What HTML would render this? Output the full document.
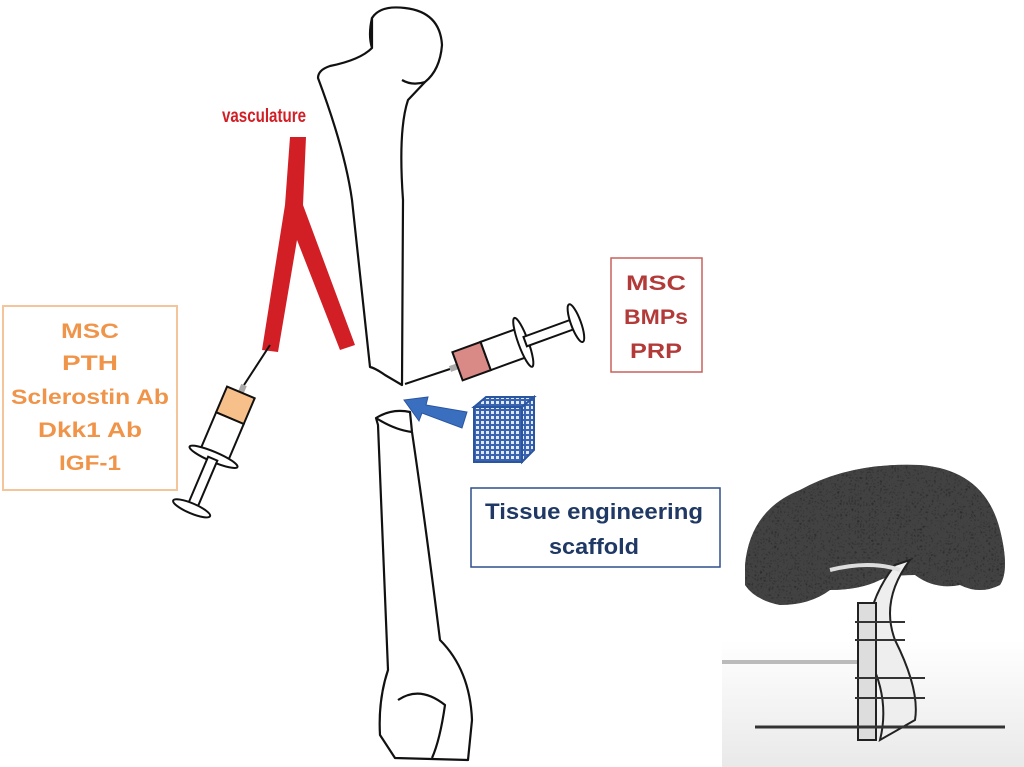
<!DOCTYPE html>
<html><head><style>
html,body{margin:0;padding:0;background:#fff;width:1024px;height:767px;overflow:hidden}
.t{font-family:"Liberation Sans",sans-serif;font-weight:bold}
</style></head><body>
<svg width="1024" height="767" viewBox="0 0 1024 767" xmlns="http://www.w3.org/2000/svg">
<defs>
<pattern id="g" width="5" height="5" patternUnits="userSpaceOnUse"><rect width="5" height="5" fill="#3a64b0"/><rect x="1" y="1" width="3" height="3" fill="#dfe8f6"/></pattern>
<filter id="n"><feTurbulence baseFrequency="0.35" numOctaves="2" result="t"/><feColorMatrix in="t" type="matrix" values="0 0 0 0 0.1 0 0 0 0 0.1 0 0 0 0 0.1 0 0 0 -2.2 1.6"/><feComposite in2="SourceGraphic" operator="in"/></filter>
<linearGradient id="bg" x1="0" y1="0" x2="0" y2="1"><stop offset="0" stop-color="#fff"/><stop offset="1" stop-color="#e9e9e9"/></linearGradient>
</defs>
<!-- femur upper -->
<g fill="none" stroke="#111" stroke-width="2.2" stroke-linejoin="round">
<path d="M372,18 Q380,5 405,8 Q440,12 442,45 Q440,70 425,82 L408,100 Q398,130 403,200 L402,385 L385,375 Q375,368 370,367 L352,200 Q345,150 318,78 Q318,70 330,66 Q360,60 372,48 Z"/>
<path d="M372,48 Q368,35 372,18"/>
<path d="M425,82 Q412,86 402,80"/>
<!-- lower bone -->
<path d="M376,418 Q392,408 410,412 L412,432 Q425,520 440,640 Q470,670 472,720 L468,760 L395,758 L380,735 Q378,700 388,670 L378,425 Z"/>
<path d="M376,418 Q395,430 412,432"/>
<path d="M398,700 Q420,685 445,705 Q440,740 432,758"/>
</g>
<!-- vasculature -->
<path d="M290,137 L306,137 L303,205 L355,345 L340,350 L297,240 L278,352 L262,350 L285,205 Z" fill="#d21f26"/>
<text x="222" y="122" class="t" font-size="19" fill="#d21f26" textLength="84" lengthAdjust="spacingAndGlyphs">vasculature</text>
<!-- left syringe -->
<line x1="270" y1="345" x2="244" y2="385" stroke="#111" stroke-width="2"/>
<g transform="translate(244,385) rotate(113)">
<rect x="0" y="-3" width="8" height="6" fill="#aaa"/>
<rect x="8" y="-15" width="28" height="30" fill="#f7c08a" stroke="#111" stroke-width="2"/>
<rect x="36" y="-15" width="40" height="30" fill="#fff" stroke="#111" stroke-width="2"/>
<ellipse cx="78" cy="0" rx="5" ry="26" fill="#fff" stroke="#111" stroke-width="2"/>
<rect x="80" y="-5" width="52" height="10" fill="#fff" stroke="#111" stroke-width="2"/>
<ellipse cx="134" cy="0" rx="5" ry="20" fill="#fff" stroke="#111" stroke-width="2"/>
</g>
<!-- right syringe -->
<line x1="405" y1="384" x2="450" y2="369" stroke="#111" stroke-width="2"/>
<g transform="translate(450,369) rotate(-20)">
<rect x="0" y="-3" width="8" height="6" fill="#aaa"/>
<rect x="8" y="-15" width="30" height="30" fill="#d98a87" stroke="#111" stroke-width="2"/>
<rect x="38" y="-15" width="38" height="30" fill="#fff" stroke="#111" stroke-width="2"/>
<ellipse cx="78" cy="0" rx="5" ry="26" fill="#fff" stroke="#111" stroke-width="2"/>
<rect x="80" y="-5" width="52" height="10" fill="#fff" stroke="#111" stroke-width="2"/>
<ellipse cx="134" cy="0" rx="5" ry="20" fill="#fff" stroke="#111" stroke-width="2"/>
</g>
<!-- blue arrow -->
<path d="M467,412 L462,428 L422,413 L419,421 L404,400 L428,397 L426,405 Z" fill="#3a6fc0" stroke="#2a55a0"/>
<!-- cube -->
<rect x="474" y="407" width="48" height="55" fill="url(#g)" stroke="#2a55a0" stroke-width="2"/>
<path d="M474,407 L486,397 L534,397 L522,407 Z" fill="url(#g)" stroke="#2a55a0" stroke-width="2"/>
<path d="M522,407 L534,397 L534,450 L522,462 Z" fill="url(#g)" stroke="#2a55a0" stroke-width="2"/>
<!-- boxes -->
<rect x="3" y="306" width="174" height="184" fill="#fff" stroke="#f4c49a" stroke-width="2"/>
<g class="t" font-size="21" fill="#f0944a" text-anchor="middle">
<text x="90" y="338" textLength="58" lengthAdjust="spacingAndGlyphs">MSC</text>
<text x="90" y="370" textLength="56" lengthAdjust="spacingAndGlyphs">PTH</text>
<text x="90" y="404" textLength="158" lengthAdjust="spacingAndGlyphs">Sclerostin Ab</text>
<text x="90" y="437" textLength="104" lengthAdjust="spacingAndGlyphs">Dkk1 Ab</text>
<text x="90" y="470" textLength="62" lengthAdjust="spacingAndGlyphs">IGF-1</text></g>
<rect x="611" y="258" width="91" height="114" fill="#fff" stroke="#c9605c" stroke-width="1.5"/>
<g class="t" font-size="21" fill="#b23a38" text-anchor="middle">
<text x="656" y="290" textLength="60" lengthAdjust="spacingAndGlyphs">MSC</text>
<text x="656" y="324" textLength="64" lengthAdjust="spacingAndGlyphs">BMPs</text>
<text x="656" y="358" textLength="52" lengthAdjust="spacingAndGlyphs">PRP</text></g>
<rect x="471" y="488" width="249" height="79" fill="#fff" stroke="#2f4f8a" stroke-width="1.5"/>
<g class="t" font-size="22" fill="#1f3864" text-anchor="middle">
<text x="594" y="519" textLength="218" lengthAdjust="spacingAndGlyphs">Tissue engineering</text>
<text x="594" y="554" textLength="90" lengthAdjust="spacingAndGlyphs">scaffold</text></g>
<!-- tree -->
<rect x="722" y="640" width="302" height="127" fill="url(#bg)"/>
<rect x="722" y="660" width="140" height="4" fill="#bbb"/>
<path id="crown" d="M745,565 Q750,510 800,490 Q850,462 920,465 Q985,470 1000,530 Q1010,570 1000,585 Q980,595 960,585 Q935,590 915,575 Q890,575 880,580 Q860,590 830,590 Q810,605 780,605 Q755,600 745,585 Z" fill="#2b2b2b"/>
<path d="M745,565 Q750,510 800,490 Q850,462 920,465 Q985,470 1000,530 Q1010,570 1000,585 Q980,595 960,585 Q935,590 915,575 Q890,575 880,580 Q860,590 830,590 Q810,605 780,605 Q755,600 745,585 Z" fill="#fff" filter="url(#n)" opacity="0.5"/>
<path d="M910,560 Q880,600 895,640 Q920,690 915,720 L880,740 Q890,700 870,660 Q860,610 895,565 Z" fill="#eee" stroke="#222" stroke-width="2"/>
<path d="M830,570 Q870,560 900,570" stroke="#ddd" stroke-width="4" fill="none"/>
<rect x="858" y="603" width="18" height="137" fill="#ddd" stroke="#222" stroke-width="2"/>
<g stroke="#333" stroke-width="2"><line x1="855" y1="622" x2="905" y2="622"/><line x1="855" y1="640" x2="905" y2="640"/><line x1="855" y1="678" x2="925" y2="678"/><line x1="855" y1="698" x2="925" y2="698"/></g>
<path d="M755,727 L1005,727" stroke="#333" stroke-width="3"/>
</svg>
</body></html>
